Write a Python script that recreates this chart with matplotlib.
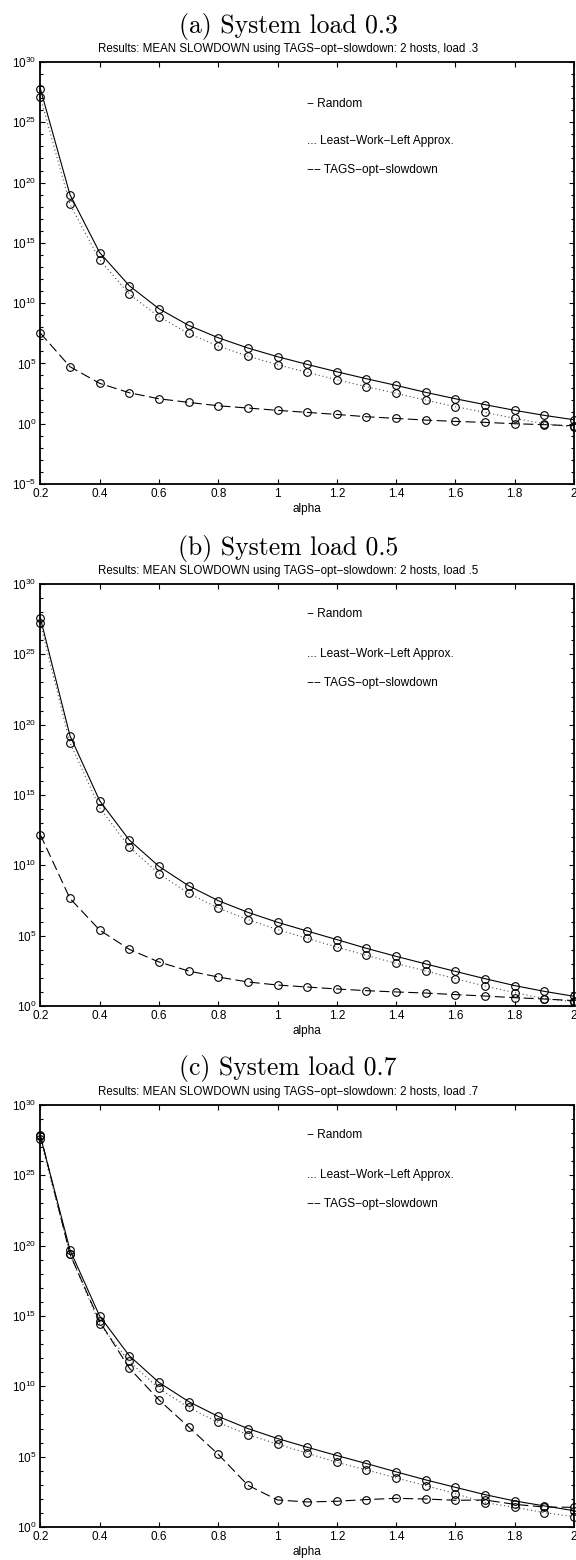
import numpy as np
import matplotlib
matplotlib.use("Agg")
import matplotlib.pyplot as plt
from matplotlib import ticker

plt.rcParams['font.family'] = ['Liberation Sans', 'DejaVu Sans']
plt.rcParams['mathtext.fontset'] = 'custom'
plt.rcParams['mathtext.rm'] = 'Liberation Sans'
plt.rcParams['mathtext.it'] = 'Liberation Sans:italic'
plt.rcParams['mathtext.bf'] = 'Liberation Sans:bold'

# ---------------- data (log10 of mean slowdown) ----------------
alpha = [0.2, 0.3, 0.4, 0.5, 0.6, 0.7, 0.8, 0.9, 1.0, 1.1,
         1.2, 1.3, 1.4, 1.5, 1.6, 1.7, 1.8, 1.9, 2.0]

random_a = [27.8, 19.0, 14.2, 11.45, 9.54, 8.16, 7.13, 6.28, 5.56, 4.92,
            4.31, 3.73, 3.18, 2.60, 2.07, 1.58, 1.11, 0.69, 0.33]
lwl_a = [27.1, 18.2, 13.6, 10.75, 8.87, 7.49, 6.44, 5.61, 4.89, 4.26,
         3.65, 3.07, 2.52, 1.96, 1.41, 0.94, 0.44, 0.0, -0.28]
tags_a = [7.52, 4.73, 3.35, 2.57, 2.07, 1.77, 1.49, 1.30, 1.11, 0.94,
          0.77, 0.58, 0.44, 0.30, 0.19, 0.11, 0.0, -0.08, -0.17]

random_b = [27.6, 19.22, 14.60, 11.80, 9.93, 8.55, 7.49, 6.66, 5.95, 5.33,
            4.72, 4.10, 3.53, 2.99, 2.46, 1.94, 1.45, 1.04, 0.69]
lwl_b = [27.2, 18.72, 14.10, 11.30, 9.41, 8.01, 6.97, 6.14, 5.43, 4.81,
         4.19, 3.60, 3.03, 2.49, 1.94, 1.42, 0.95, 0.52, 0.31]
tags_b = [12.18, 7.65, 5.40, 4.03, 3.13, 2.49, 2.06, 1.71, 1.49, 1.35,
          1.21, 1.09, 1.00, 0.92, 0.81, 0.71, 0.59, 0.50, 0.38]

random_c = [27.8, 19.7, 15.0, 12.18, 10.28, 8.92, 7.86, 7.00, 6.29, 5.67,
            5.08, 4.51, 3.92, 3.35, 2.82, 2.30, 1.85, 1.50, 1.16]
lwl_c = [27.6, 19.4, 14.43, 11.77, 9.85, 8.50, 7.43, 6.57, 5.89, 5.25,
         4.60, 4.06, 3.49, 2.94, 2.37, 1.73, 1.40, 1.02, 0.74]
tags_c = [27.9, 19.4, 14.62, 11.30, 9.04, 7.12, 5.17, 2.97, 1.92, 1.78,
          1.83, 1.95, 2.04, 1.99, 1.90, 1.92, 1.61, 1.42, 1.40]

panel_titles = ['(a) System load 0.3', '(b) System load 0.5', '(c) System load 0.7']
subtitles = ['Results: MEAN SLOWDOWN using TAGS\u2212opt\u2212slowdown: 2 hosts, load .3',
             'Results: MEAN SLOWDOWN using TAGS\u2212opt\u2212slowdown: 2 hosts, load .5',
             'Results: MEAN SLOWDOWN using TAGS\u2212opt\u2212slowdown: 2 hosts, load .7']
legend_texts = ['\u2212 Random', '... Least\u2212Work\u2212Left Approx.', '\u2212\u2212 TAGS\u2212opt\u2212slowdown']
xticks = [0.2, 0.4, 0.6, 0.8, 1.0, 1.2, 1.4, 1.6, 1.8, 2.0]
xticklabels = ['0.2', '0.4', '0.6', '0.8', '1', '1.2', '1.4', '1.6', '1.8', '2']
ylims = [(-5, 30), (0, 30), (0, 30)]

data = [(random_a, lwl_a, tags_a), (random_b, lwl_b, tags_b), (random_c, lwl_c, tags_c)]

# ---------------- layout ----------------
W, H = 576, 1560
fig = plt.figure(figsize=(W / 100, H / 100), dpi=100)

ax_left, ax_right = 40.3, 574
ax_tops = [62, 584, 1105]
ax_h = 422
title_y = [26, 548, 1069]
legend_offsets = [[42, 79, 108], [30, 70, 99], [30, 70, 99]]


def fy(px):
    return 1 - px / H


for i in range(3):
    top = ax_tops[i]
    ax = fig.add_axes([ax_left / W, fy(top + ax_h), (ax_right - ax_left) / W, ax_h / H])
    r, l, t = data[i]
    x = np.array(alpha)
    mk = dict(marker='o', markersize=5.5, markerfacecolor='none', markeredgecolor='black',
              markeredgewidth=0.8, clip_on=False)
    ax.plot(x, 10.0 ** np.array(r), color='black', lw=0.8, linestyle='-', **mk)
    ax.plot(x, 10.0 ** np.array(l), color='0.3', lw=0.8, linestyle=(0, (1, 2.5)), **mk)
    ax.plot(x, 10.0 ** np.array(t), color='black', lw=0.8, linestyle=(0, (9, 4)), **mk)

    ax.set_yscale('log')
    lo, hi = ylims[i]
    ax.set_ylim(10.0 ** lo, 10.0 ** hi)
    ax.set_xlim(0.2, 2.0)
    ax.yaxis.set_major_locator(ticker.FixedLocator([10.0 ** k for k in range(lo, hi + 1, 5)]))
    ax.yaxis.set_minor_locator(ticker.FixedLocator([10.0 ** k for k in range(lo, hi + 1)]))
    ax.yaxis.set_major_formatter(ticker.FuncFormatter(
        lambda v, _: r'$\mathdefault{10^{%d}}$' % int(round(np.log10(v)))))
    ax.yaxis.set_minor_formatter(ticker.NullFormatter())
    ax.set_xticks(xticks)
    ax.set_xticklabels(xticklabels)
    ax.tick_params(which='both', direction='in', top=True, right=True, width=0.8,
                   labelsize=8.5, colors='black')
    ax.tick_params(which='major', length=3.6, pad=3)
    ax.tick_params(which='minor', length=2.4)
    for s in ax.spines.values():
        s.set_linewidth(1.3)
    ax.set_xlabel('alpha', fontsize=8.5, labelpad=2)

    fig.text(0.5, fy(title_y[i]), panel_titles[i], family='cmr10', fontsize=18.5,
             ha='center', va='center')
    fig.text(0.5, fy(top - 13), subtitles[i], fontsize=8.3, ha='center', va='center')

    for txt, off in zip(legend_texts, legend_offsets[i]):
        ax.text(0.5, 1 - off / ax_h, txt, transform=ax.transAxes, fontsize=8.6,
                ha='left', va='center')

fig.savefig('out.png', dpi=100)
